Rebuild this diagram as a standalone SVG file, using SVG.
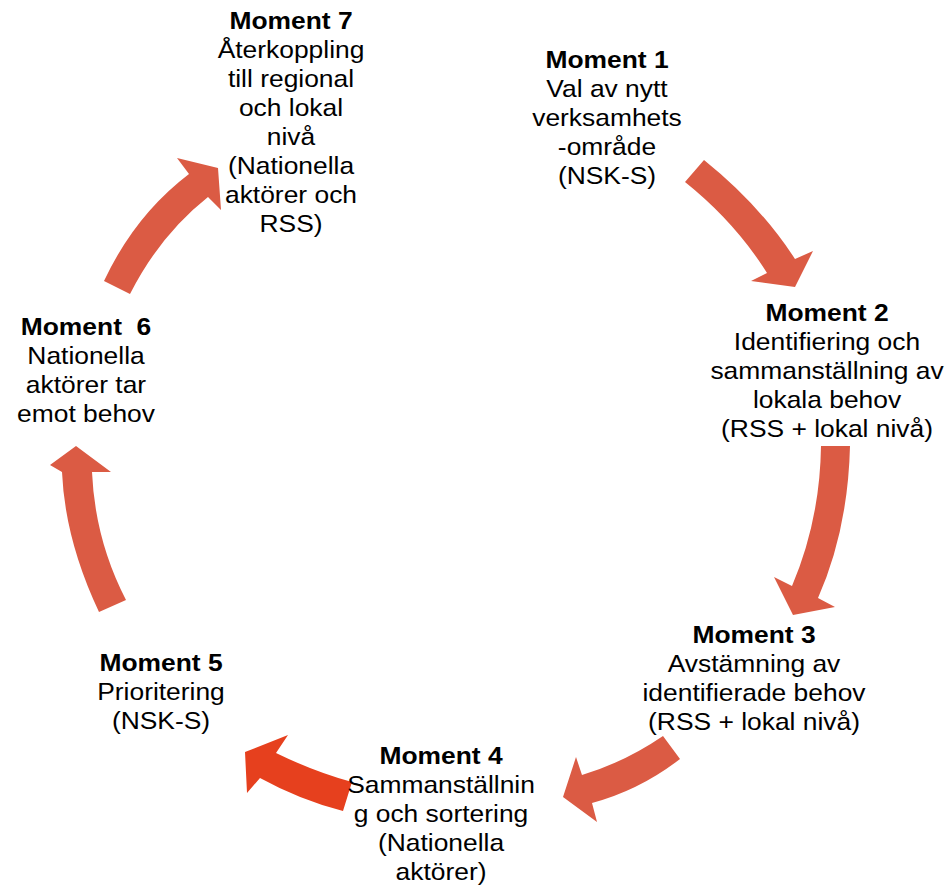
<svg xmlns="http://www.w3.org/2000/svg" width="951" height="886" viewBox="0 0 951 886">
<style>
text{font-family:"Liberation Sans",Arial,sans-serif;font-size:24px;fill:#000;text-anchor:middle;white-space:pre}
.b{font-weight:bold}
.arr{fill:#DB5B44}
.arr2{fill:#E6401E}
</style>
<rect width="951" height="886" fill="#fff"/>
<g id="connectors">
<path class="arr" d="M704,160 Q760,205 795,259 L813,251 L795,287 L751,281 L767,273 Q735,222 685,182 Z"/>
<path class="arr" d="M821,446 L850,446 Q848,530 818,598 L835,607 L793,615 L774,577 L792,586 Q820,520 821,446 Z"/>
<path class="arr" d="M663,736 L680,759 Q640,790 592,803 L597,822 L563,797 L576,757 L582,775 Q625,762 663,736 Z"/>
<path class="arr2" d="M352,782 L343,811 Q300,800 260,778 L247,793 L245,752 L288,735 L276,753 Q315,772 352,782 Z"/>
<path class="arr" d="M126,600 L99,612 Q65,540 62,472 L50,465 L76,446 L111,472 L92,472 Q95,540 126,600 Z"/>
<path class="arr" d="M104,281 Q135,215 189,174 L177,158 L218,168 L221,210 L208,197 Q160,235 130,294 Z"/>
</g>
<g id="moment1" transform="translate(607,0) scale(1.1,1)">
<text class="b" y="68">Moment 1</text>
<text y="97">Val av nytt</text>
<text y="126">verksamhets</text>
<text y="155">-område</text>
<text y="184">(NSK-S)</text>
</g>
<g id="moment2" transform="translate(827,0) scale(1.1,1)">
<text class="b" y="321">Moment 2</text>
<text y="350">Identifiering och</text>
<text y="379">sammanställning av</text>
<text y="408">lokala behov</text>
<text y="437">(RSS + lokal nivå)</text>
</g>
<g id="moment3" transform="translate(754,0) scale(1.1,1)">
<text class="b" y="643">Moment 3</text>
<text y="672">Avstämning av</text>
<text y="701">identifierade behov</text>
<text y="730">(RSS + lokal nivå)</text>
</g>
<g id="moment4" transform="translate(441,0) scale(1.1,1)">
<text class="b" y="764">Moment 4</text>
<text y="793">Sammanställnin</text>
<text y="822">g och sortering</text>
<text y="851">(Nationella</text>
<text y="880">aktörer)</text>
</g>
<g id="moment5" transform="translate(161,0) scale(1.1,1)">
<text class="b" y="671">Moment 5</text>
<text y="700">Prioritering</text>
<text y="729">(NSK-S)</text>
</g>
<g id="moment6" transform="translate(86,0) scale(1.1,1)">
<text class="b" y="335">Moment  6</text>
<text y="364">Nationella</text>
<text y="393">aktörer tar</text>
<text y="422">emot behov</text>
</g>
<g id="moment7" transform="translate(291,0) scale(1.1,1)">
<text class="b" y="29">Moment 7</text>
<text y="58">Återkoppling</text>
<text y="87">till regional</text>
<text y="116">och lokal</text>
<text y="145">nivå</text>
<text y="174">(Nationella</text>
<text y="203">aktörer och</text>
<text y="232">RSS)</text>
</g>
</svg>
